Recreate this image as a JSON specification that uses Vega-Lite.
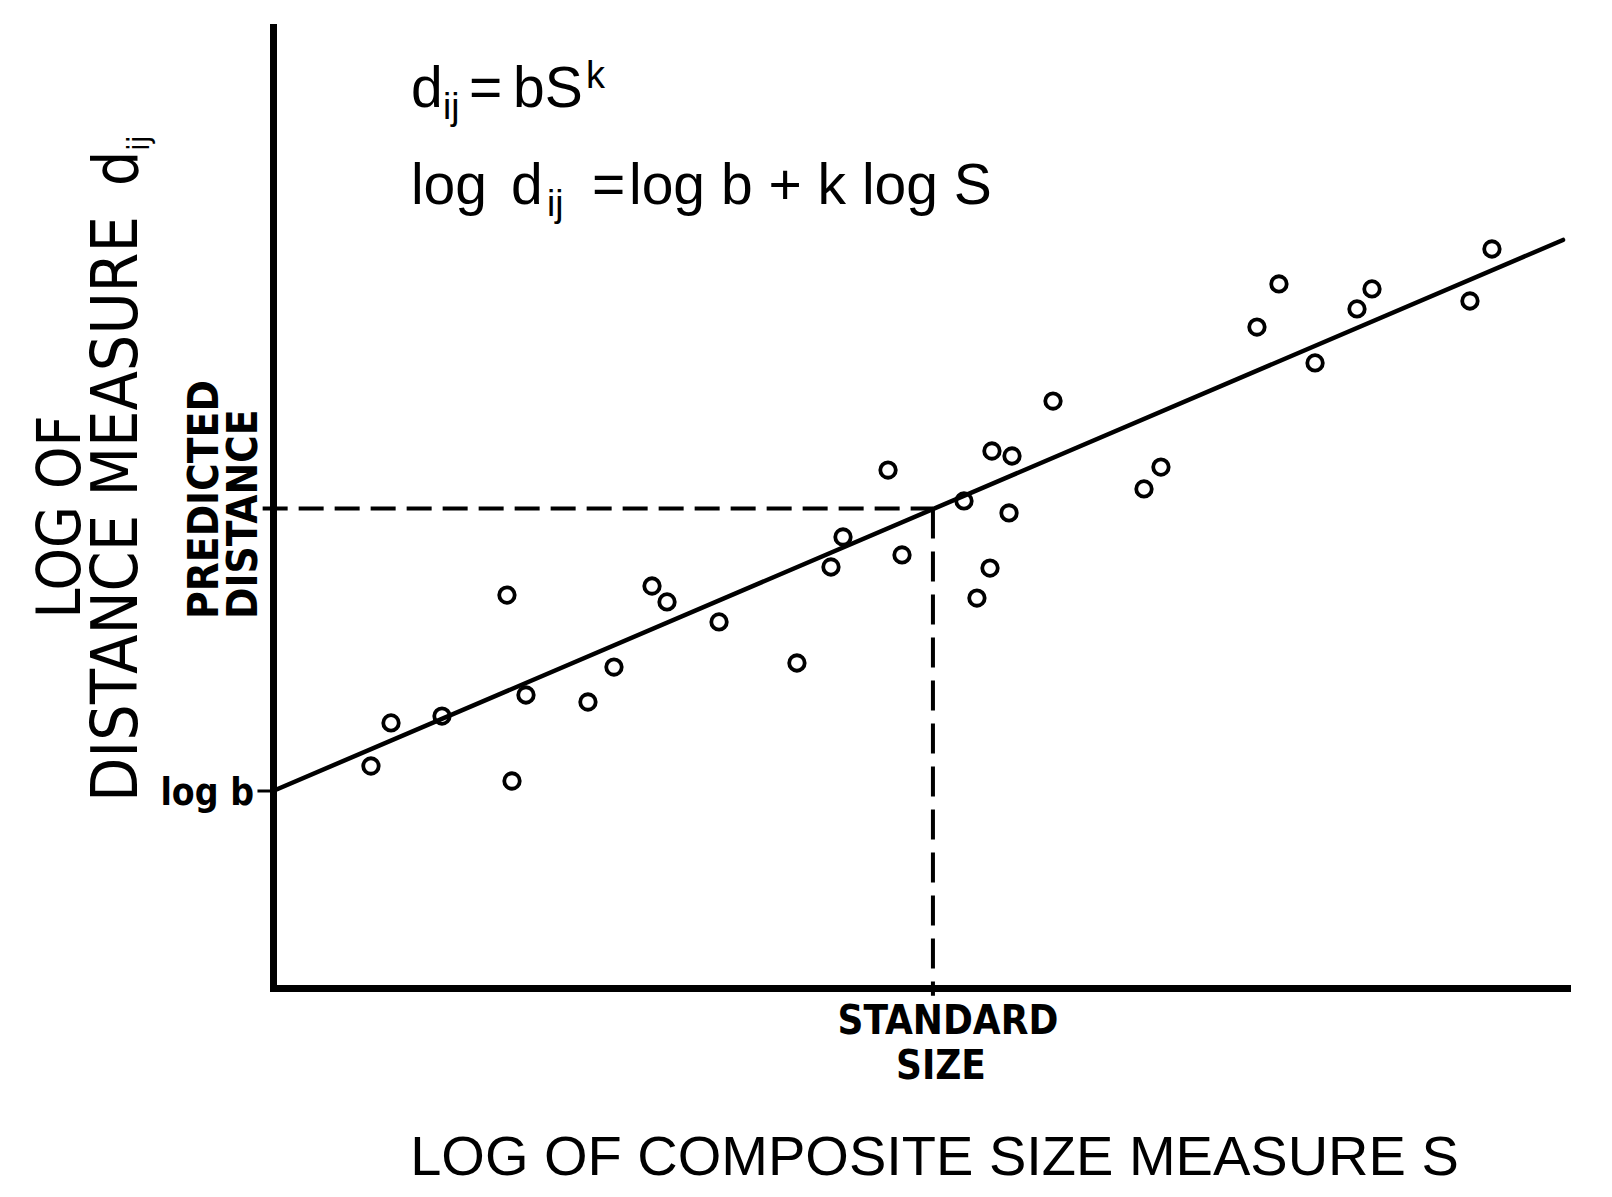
{
  "$schema": "https://vega.github.io/schema/vega-lite/v6.json",
  "width": 1294,
  "height": 961,
  "autosize": {"type": "none"},
  "padding": {"left": 273, "top": 27, "right": 45, "bottom": 209},
  "background": "white",
  "config": {
    "view": {"stroke": null},
    "axis": {"domainColor": "black", "domainWidth": 7, "domainCap": "square", "ticks": false, "labels": false, "grid": false}
  },
  "datasets": {
    "points": [
      {"x": 7.57, "y": 23.10}, {"x": 9.12, "y": 27.58}, {"x": 13.06, "y": 28.30}, {"x": 18.08, "y": 40.89},
      {"x": 18.47, "y": 21.54}, {"x": 19.55, "y": 30.49}, {"x": 24.34, "y": 29.76}, {"x": 26.35, "y": 33.40},
      {"x": 29.29, "y": 41.83}, {"x": 30.45, "y": 40.17}, {"x": 34.47, "y": 38.09}, {"x": 40.49, "y": 33.82},
      {"x": 43.12, "y": 43.81}, {"x": 44.05, "y": 46.93}, {"x": 47.53, "y": 53.90}, {"x": 48.61, "y": 45.06},
      {"x": 53.40, "y": 50.68}, {"x": 54.40, "y": 40.58}, {"x": 55.41, "y": 43.70}, {"x": 55.56, "y": 55.88},
      {"x": 57.11, "y": 55.36}, {"x": 56.88, "y": 49.43}, {"x": 60.28, "y": 61.08}, {"x": 67.31, "y": 51.93},
      {"x": 68.62, "y": 54.21}, {"x": 76.04, "y": 68.78}, {"x": 77.74, "y": 73.26}, {"x": 80.53, "y": 65.04},
      {"x": 83.77, "y": 70.66}, {"x": 84.93, "y": 72.74}, {"x": 92.50, "y": 71.49}, {"x": 94.20, "y": 76.90}
    ],
    "fit": [{"x": 0, "y": 20.5, "x2": 99.69, "y2": 77.84}],
    "tick": [{"x": -1.2, "x2": 0, "y": 20.5}],
    "hdash": [{"x": -0.8, "x2": 51.0, "y": 49.9}],
    "vdash": [{"x": 51.0, "y": 49.9, "y2": -0.8}],
    "labels": [
      {"role": "big", "x": 10.66, "y": 91.67, "t": "d"},
      {"role": "big", "x": 15.15, "y": 91.67, "t": "="},
      {"role": "big", "x": 18.55, "y": 91.67, "t": "bS"},
      {"role": "big", "x": 10.66, "y": 81.58, "t": "log"},
      {"role": "big", "x": 18.39, "y": 81.58, "t": "d"},
      {"role": "big", "x": 24.65, "y": 81.58, "t": "="},
      {"role": "big", "x": 27.51, "y": 81.58, "t": "log b + k log S"},
      {"role": "small", "x": 13.14, "y": 90.43, "t": "ij"},
      {"role": "small", "x": 21.17, "y": 80.33, "t": "ij"},
      {"role": "sup", "x": 24.19, "y": 93.70, "t": "k"},
      {"role": "ytc1", "x": -14.92, "y": 49.01, "t": "LOG OF"},
      {"role": "ytc2", "x": -10.51, "y": 49.84, "t": "DISTANCE MEASURE"},
      {"role": "ytl", "x": -10.51, "y": 83.46, "t": "d"},
      {"role": "yts", "x": -9.58, "y": 87.10, "t": "ij"},
      {"role": "boldrot", "x": -4.25, "y": 38.40, "t": "PREDICTED"},
      {"role": "boldrot", "x": -1.24, "y": 38.40, "t": "DISTANCE"},
      {"role": "logb", "x": -1.47, "y": 19.04, "t": "log b"},
      {"role": "std", "x": 52.16, "y": -4.79, "t": "STANDARD"},
      {"role": "std", "x": 51.62, "y": -9.47, "t": "SIZE"},
      {"role": "xt", "x": 51.12, "y": -19.46, "t": "LOG OF COMPOSITE SIZE MEASURE S"}
    ]
  },
  "layer": [
    {
      "data": {"name": "points"},
      "mark": {"type": "point", "shape": "circle", "filled": false, "color": "black", "strokeWidth": 3.8, "size": 240, "opacity": 1},
      "encoding": {
        "x": {"field": "x", "type": "quantitative", "scale": {"domain": [0, 100], "nice": false, "zero": false}, "title": null},
        "y": {"field": "y", "type": "quantitative", "scale": {"domain": [0, 100], "nice": false, "zero": false}, "title": null}
      }
    },
    {
      "data": {"name": "fit"},
      "mark": {"type": "rule", "color": "black", "strokeWidth": 4.5, "strokeCap": "round"},
      "encoding": {
        "x": {"field": "x", "type": "quantitative", "title": null},
        "y": {"field": "y", "type": "quantitative", "title": null},
        "x2": {"field": "x2"},
        "y2": {"field": "y2"}
      }
    },
    {
      "data": {"name": "tick"},
      "mark": {"type": "rule", "color": "black", "strokeWidth": 3},
      "encoding": {
        "x": {"field": "x", "type": "quantitative", "title": null},
        "x2": {"field": "x2"},
        "y": {"field": "y", "type": "quantitative", "title": null}
      }
    },
    {
      "data": {"name": "hdash"},
      "mark": {"type": "rule", "color": "black", "strokeWidth": 4, "strokeDash": [25, 11]},
      "encoding": {
        "x": {"field": "x", "type": "quantitative", "title": null},
        "x2": {"field": "x2"},
        "y": {"field": "y", "type": "quantitative", "title": null}
      }
    },
    {
      "data": {"name": "vdash"},
      "mark": {"type": "rule", "color": "black", "strokeWidth": 4, "strokeDash": [30, 13]},
      "encoding": {
        "x": {"field": "x", "type": "quantitative", "title": null},
        "y": {"field": "y", "type": "quantitative", "title": null},
        "y2": {"field": "y2"}
      }
    },
    {
      "data": {"name": "labels"},
      "transform": [{"filter": "datum.role == 'big'"}],
      "mark": {"type": "text", "font": "Liberation Sans", "fontSize": 57, "align": "left", "baseline": "alphabetic", "color": "black"},
      "encoding": {
        "x": {"field": "x", "type": "quantitative", "title": null},
        "y": {"field": "y", "type": "quantitative", "title": null},
        "text": {"field": "t"}
      }
    },
    {
      "data": {"name": "labels"},
      "transform": [{"filter": "datum.role == 'small'"}],
      "mark": {"type": "text", "font": "Liberation Sans", "fontSize": 37, "align": "left", "baseline": "alphabetic", "color": "black"},
      "encoding": {
        "x": {"field": "x", "type": "quantitative", "title": null},
        "y": {"field": "y", "type": "quantitative", "title": null},
        "text": {"field": "t"}
      }
    },
    {
      "data": {"name": "labels"},
      "transform": [{"filter": "datum.role == 'sup'"}],
      "mark": {"type": "text", "font": "Liberation Sans", "fontSize": 38, "align": "left", "baseline": "alphabetic", "color": "black"},
      "encoding": {
        "x": {"field": "x", "type": "quantitative", "title": null},
        "y": {"field": "y", "type": "quantitative", "title": null},
        "text": {"field": "t"}
      }
    },
    {
      "data": {"name": "labels"},
      "transform": [{"filter": "datum.role == 'ytc1'"}],
      "mark": {"type": "text", "font": "DejaVu Sans Condensed", "fontSize": 60, "align": "center", "baseline": "alphabetic", "angle": -90, "color": "black"},
      "encoding": {
        "x": {"field": "x", "type": "quantitative", "title": null},
        "y": {"field": "y", "type": "quantitative", "title": null},
        "text": {"field": "t"}
      }
    },
    {
      "data": {"name": "labels"},
      "transform": [{"filter": "datum.role == 'ytc2'"}],
      "mark": {"type": "text", "font": "DejaVu Sans Condensed", "fontSize": 64, "align": "center", "baseline": "alphabetic", "angle": -90, "color": "black"},
      "encoding": {
        "x": {"field": "x", "type": "quantitative", "title": null},
        "y": {"field": "y", "type": "quantitative", "title": null},
        "text": {"field": "t"}
      }
    },
    {
      "data": {"name": "labels"},
      "transform": [{"filter": "datum.role == 'ytl'"}],
      "mark": {"type": "text", "font": "DejaVu Sans Condensed", "fontSize": 62, "align": "left", "baseline": "alphabetic", "angle": -90, "color": "black"},
      "encoding": {
        "x": {"field": "x", "type": "quantitative", "title": null},
        "y": {"field": "y", "type": "quantitative", "title": null},
        "text": {"field": "t"}
      }
    },
    {
      "data": {"name": "labels"},
      "transform": [{"filter": "datum.role == 'yts'"}],
      "mark": {"type": "text", "font": "DejaVu Sans Condensed", "fontSize": 31, "align": "left", "baseline": "alphabetic", "angle": -90, "color": "black"},
      "encoding": {
        "x": {"field": "x", "type": "quantitative", "title": null},
        "y": {"field": "y", "type": "quantitative", "title": null},
        "text": {"field": "t"}
      }
    },
    {
      "data": {"name": "labels"},
      "transform": [{"filter": "datum.role == 'boldrot'"}],
      "mark": {"type": "text", "font": "DejaVu Sans Condensed", "fontWeight": "bold", "fontSize": 42, "align": "left", "baseline": "alphabetic", "angle": -90, "color": "black"},
      "encoding": {
        "x": {"field": "x", "type": "quantitative", "title": null},
        "y": {"field": "y", "type": "quantitative", "title": null},
        "text": {"field": "t"}
      }
    },
    {
      "data": {"name": "labels"},
      "transform": [{"filter": "datum.role == 'logb'"}],
      "mark": {"type": "text", "font": "DejaVu Sans Condensed", "fontWeight": "bold", "fontSize": 37, "align": "right", "baseline": "alphabetic", "color": "black"},
      "encoding": {
        "x": {"field": "x", "type": "quantitative", "title": null},
        "y": {"field": "y", "type": "quantitative", "title": null},
        "text": {"field": "t"}
      }
    },
    {
      "data": {"name": "labels"},
      "transform": [{"filter": "datum.role == 'std'"}],
      "mark": {"type": "text", "font": "DejaVu Sans Condensed", "fontWeight": "bold", "fontSize": 40, "align": "center", "baseline": "alphabetic", "color": "black"},
      "encoding": {
        "x": {"field": "x", "type": "quantitative", "title": null},
        "y": {"field": "y", "type": "quantitative", "title": null},
        "text": {"field": "t"}
      }
    },
    {
      "data": {"name": "labels"},
      "transform": [{"filter": "datum.role == 'xt'"}],
      "mark": {"type": "text", "font": "Liberation Sans", "fontSize": 56, "align": "center", "baseline": "alphabetic", "color": "black"},
      "encoding": {
        "x": {"field": "x", "type": "quantitative", "title": null},
        "y": {"field": "y", "type": "quantitative", "title": null},
        "text": {"field": "t"}
      }
    }
  ]
}
